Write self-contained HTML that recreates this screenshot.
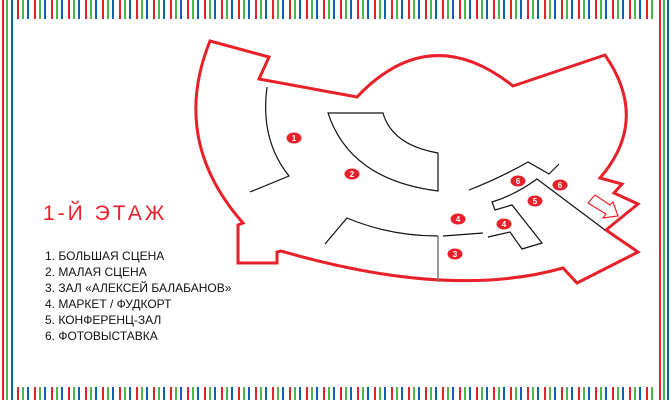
<!DOCTYPE html>
<html><head><meta charset="utf-8"><style>
body{margin:0;width:670px;height:400px;background:#fff;position:relative;overflow:hidden;font-family:"Liberation Sans",sans-serif}
.st{position:absolute;left:17px;right:14px;background:repeating-linear-gradient(90deg,#e8202a 0 2px,transparent 2px 5px,#4cb648 5px 7px,transparent 7px 10px,#0a62b0 10px 12px,transparent 12px 17px)}
.sd{position:absolute;top:0;bottom:0;width:2px}
.t{position:absolute;left:43px;top:202px;color:#e8202a;font-size:21px;letter-spacing:3px}
.l{position:absolute;left:45px;top:248px;font-size:12px;line-height:16px;color:#111}
</style></head><body>
<div class="st" style="top:0;height:19px"></div>
<div class="st" style="top:387px;height:13px"></div>
<div class="sd" style="left:2px;background:#e8202a"></div>
<div class="sd" style="left:6px;background:#4cb648"></div>
<div class="sd" style="left:11px;background:#0a62b0"></div>
<div class="sd" style="left:659px;background:#e8202a"></div>
<div class="sd" style="left:663px;background:#4cb648"></div>
<div class="sd" style="left:667px;background:#0a62b0"></div>
<div class="t">1-Й ЭТАЖ</div>
<div class="l">1. БОЛЬШАЯ СЦЕНА<br>2. МАЛАЯ СЦЕНА<br>3. ЗАЛ «АЛЕКСЕЙ БАЛАБАНОВ»<br>4. МАРКЕТ / ФУДКОРТ<br>5. КОНФЕРЕНЦ-ЗАЛ<br>6. ФОТОВЫСТАВКА</div>
<svg width="670" height="400" style="position:absolute;left:0;top:0">
<path d="M210,41 L269,57 L259,79 L357,97 Q430,20 513,86 L605,55 Q650,120 600,178 L622,184 L614,193 L638,204 L606,230 L638,252 L577,283 L563,268 Q450,300 281,251 L277,252 L277,263 L238,263 L238,225 L243,223 Q170,140 210,41 Z" fill="none" stroke="#e8202a" stroke-width="3" stroke-linejoin="miter"/>
<g fill="none" stroke="#111" stroke-width="1.2">
<path d="M267,87 Q260,140 289,176 L250,192"/>
<path d="M328,113 L383,113 Q392,145 438,153 L438,191 Q350,180 328,113 Z"/>
<path d="M325,244 L347,218 Q390,236 438,236"/>
<path d="M443,236 L483,233"/>
<path d="M488,237 L510,232 L522,249 L542,243 L512,205 L495,210 L492,202 Q515,195 537,179 L605,230"/>
<path d="M469,190 Q500,178 528,162 L549,174 L559,164"/>
</g>
<path d="M438,236 L438,282" stroke="#777" stroke-width="1.5"/>
<path d="M588,203 L595,195 L610,205 L613,202 L618,216 L603,218 L606,214 Z" fill="#fff" stroke="#e8202a" stroke-width="1.2"/>
<g fill="#e8202a"><ellipse cx="294" cy="138" rx="7.5" ry="5.5"/><ellipse cx="352" cy="174" rx="7.5" ry="5.5"/><ellipse cx="458" cy="219" rx="7.5" ry="5.5"/><ellipse cx="504" cy="224" rx="7.5" ry="5.5"/><ellipse cx="455" cy="254" rx="7.5" ry="5.5"/><ellipse cx="535" cy="201" rx="7.5" ry="5.5"/><ellipse cx="518" cy="181" rx="7.5" ry="5.5"/><ellipse cx="560" cy="185" rx="7.5" ry="5.5"/></g>
<g fill="#fff" font-size="8" font-family="Liberation Sans" text-anchor="middle" font-weight="bold"><text x="294" y="141">1</text><text x="352" y="177">2</text><text x="458" y="222">4</text><text x="504" y="227">4</text><text x="455" y="257">3</text><text x="535" y="204">5</text><text x="518" y="184">6</text><text x="560" y="188">6</text></g>
</svg>
</body></html>
